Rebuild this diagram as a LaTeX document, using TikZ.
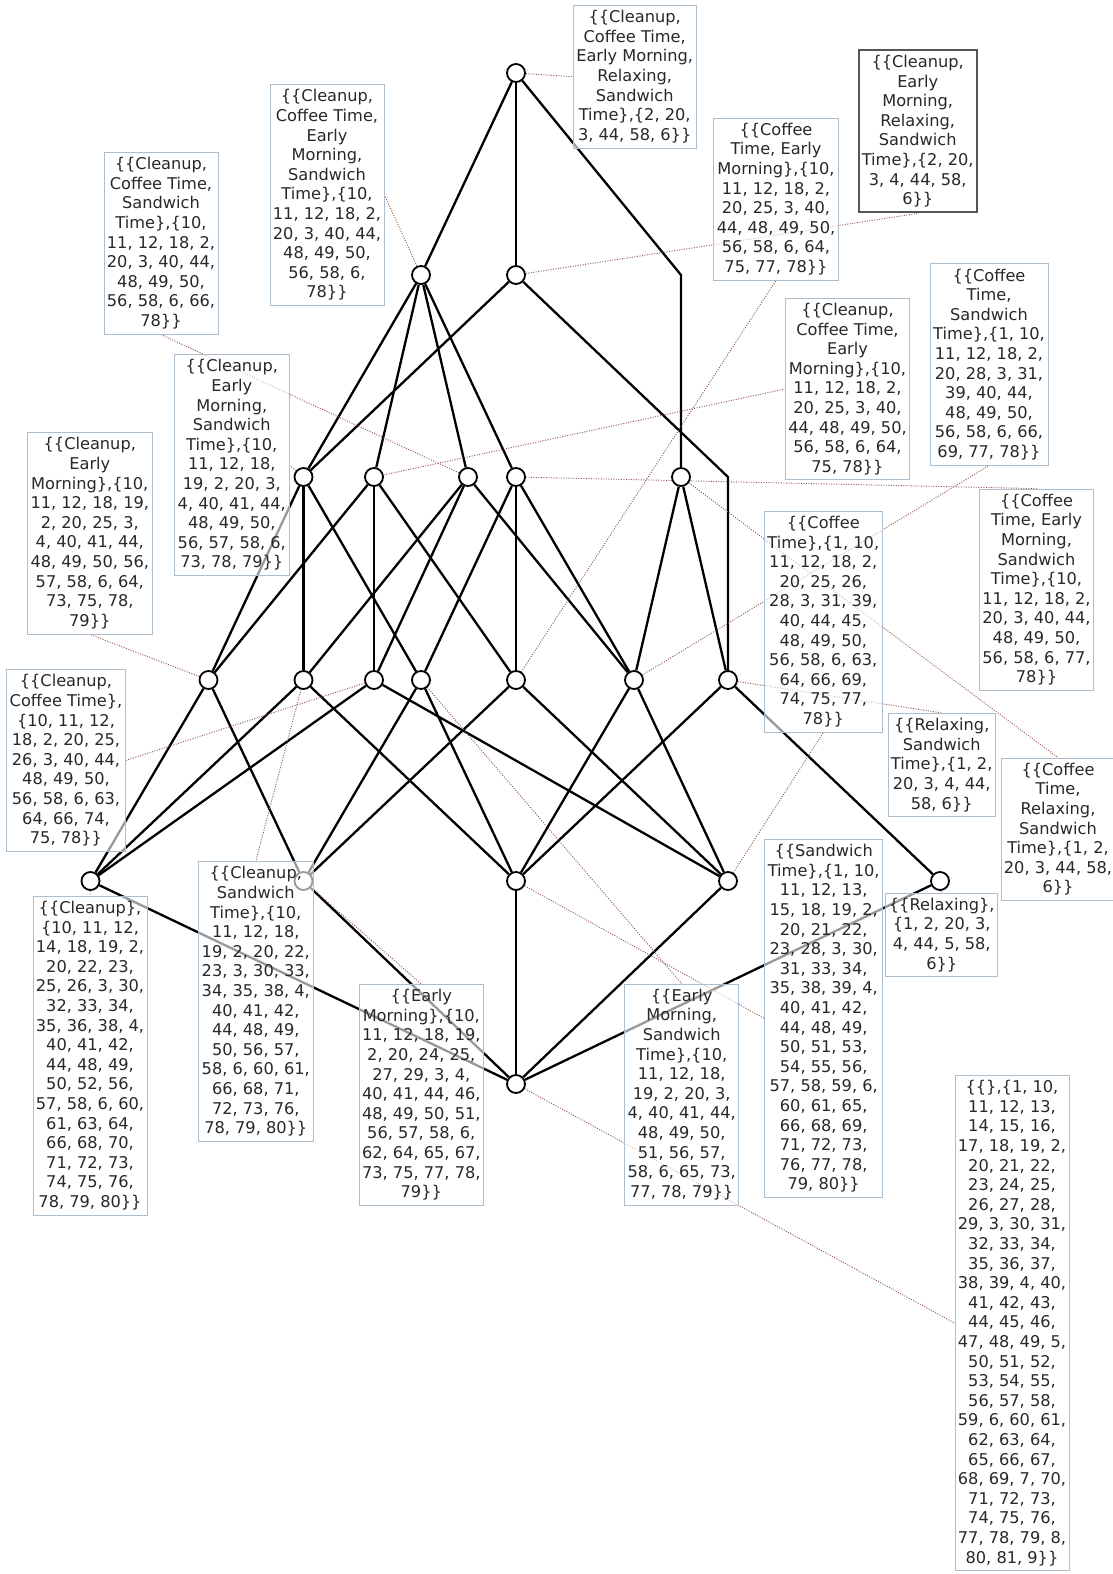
\documentclass[tikz,border=0pt]{standalone}
\usepackage{fontspec}
\newfontfamily\lblfont{DejaVu Sans}
\pgfdeclarelayer{bg}
\pgfsetlayers{bg,main}
\definecolor{boxline}{RGB}{172,190,206}
\definecolor{leadline}{RGB}{145,85,85}
\definecolor{lbltext}{RGB}{40,40,40}
\definecolor{markline}{RGB}{85,85,85}
\begin{document}
\begin{tikzpicture}[
x=1pt, y=-1pt, concept/.style={circle, draw, line width=1.8pt, fill=white, minimum size=18pt, inner sep=0pt}, edge/.style={line width=2.3pt, black}, lead/.style={leadline, line width=0.9pt, dash pattern=on 1pt off 1.5pt}, lbl/.style={rectangle, draw=boxline, line width=0.8pt, fill=white, fill opacity=0.6, text opacity=1, text=lbltext, align=center, inner xsep=3pt, inner ysep=5pt, font=\lblfont\fontsize{16.2}{19.6}\selectfont}, lblmark/.style={lbl, draw=markline, line width=2pt} ]
\useasboundingbox (0,0) rectangle (1113,1574);
\begin{pgfonlayer}{bg}
\fill[white] (0,0) rectangle (1113,1574);
\end{pgfonlayer}
\node[concept] (t) at (516,73) {};
\node[concept] (a) at (421,275) {};
\node[concept] (b) at (516,275) {};
\node[concept] (c1) at (303.5,477) {};
\node[concept] (c2) at (374,477) {};
\node[concept] (c3) at (468,477) {};
\node[concept] (c4) at (516,477) {};
\node[concept] (c5) at (681,477) {};
\node[concept] (d1) at (208.5,680) {};
\node[concept] (d2) at (303.5,680) {};
\node[concept] (d3) at (374,680) {};
\node[concept] (d4) at (421,680) {};
\node[concept] (d5) at (516,680) {};
\node[concept] (d6) at (634,680) {};
\node[concept] (d7) at (728,680) {};
\node[concept] (e1) at (90.5,881) {};
\node[concept] (e2) at (303.5,881) {};
\node[concept] (e3) at (516,881) {};
\node[concept] (e4) at (728,881) {};
\node[concept] (e5) at (940,881) {};
\node[concept] (z) at (516,1084) {};
\coordinate (bendtc) at (681,275);
\coordinate (bendbd) at (728,477);
\node[lbl] (lblT) at (634.7,76.7) {\{\{Cleanup,\\Coffee Time,\\Early Morning,\\Relaxing,\\Sandwich\\Time\},\{2, 20,\\3, 44, 58, 6\}\}};
\node[lbl] (lblA) at (327,195) {\{\{Cleanup,\\Coffee Time,\\Early\\Morning,\\Sandwich\\Time\},\{10,\\11, 12, 18, 2,\\20, 3, 40, 44,\\48, 49, 50,\\56, 58, 6,\\78\}\}};
\node[lblmark] (lblB) at (917.7,131.3) {\{\{Cleanup,\\Early\\Morning,\\Relaxing,\\Sandwich\\Time\},\{2, 20,\\3, 4, 44, 58,\\6\}\}};
\node[lbl] (lblClCoS) at (161,243.3) {\{\{Cleanup,\\Coffee Time,\\Sandwich\\Time\},\{10,\\11, 12, 18, 2,\\20, 3, 40, 44,\\48, 49, 50,\\56, 58, 6, 66,\\78\}\}};
\node[lbl] (lblCoEM) at (776,199) {\{\{Coffee\\Time, Early\\Morning\},\{10,\\11, 12, 18, 2,\\20, 25, 3, 40,\\44, 48, 49, 50,\\56, 58, 6, 64,\\75, 77, 78\}\}};
\node[lbl] (lblClEMS) at (231.8,465) {\{\{Cleanup,\\Early\\Morning,\\Sandwich\\Time\},\{10,\\11, 12, 18,\\19, 2, 20, 3,\\4, 40, 41, 44,\\48, 49, 50,\\56, 57, 58, 6,\\73, 78, 79\}\}};
\node[lbl] (lblClCoEM) at (847.5,389) {\{\{Cleanup,\\Coffee Time,\\Early\\Morning\},\{10,\\11, 12, 18, 2,\\20, 25, 3, 40,\\44, 48, 49, 50,\\56, 58, 6, 64,\\75, 78\}\}};
\node[lbl] (lblCoS) at (989,364.5) {\{\{Coffee\\Time,\\Sandwich\\Time\},\{1, 10,\\11, 12, 18, 2,\\20, 28, 3, 31,\\39, 40, 44,\\48, 49, 50,\\56, 58, 6, 66,\\69, 77, 78\}\}};
\node[lbl] (lblClEM) at (89.8,533.3) {\{\{Cleanup,\\Early\\Morning\},\{10,\\11, 12, 18, 19,\\2, 20, 25, 3,\\4, 40, 41, 44,\\48, 49, 50, 56,\\57, 58, 6, 64,\\73, 75, 78,\\79\}\}};
\node[lbl] (lblCoEMS) at (1036.5,589.7) {\{\{Coffee\\Time, Early\\Morning,\\Sandwich\\Time\},\{10,\\11, 12, 18, 2,\\20, 3, 40, 44,\\48, 49, 50,\\56, 58, 6, 77,\\78\}\}};
\node[lbl] (lblCo) at (823.3,621.7) {\{\{Coffee\\Time\},\{1, 10,\\11, 12, 18, 2,\\20, 25, 26,\\28, 3, 31, 39,\\40, 44, 45,\\48, 49, 50,\\56, 58, 6, 63,\\64, 66, 69,\\74, 75, 77,\\78\}\}};
\node[lbl] (lblClCo) at (66,760.4) {\{\{Cleanup,\\Coffee Time\},\\\{10, 11, 12,\\18, 2, 20, 25,\\26, 3, 40, 44,\\48, 49, 50,\\56, 58, 6, 63,\\64, 66, 74,\\75, 78\}\}};
\node[lbl] (lblRS) at (941.7,765) {\{\{Relaxing,\\Sandwich\\Time\},\{1, 2,\\20, 3, 4, 44,\\58, 6\}\}};
\node[lbl] (lblCoRS) at (1058,829.3) {\{\{Coffee\\Time,\\Relaxing,\\Sandwich\\Time\},\{1, 2,\\20, 3, 44, 58,\\6\}\}};
\node[lbl] (lblCl) at (90,1055.7) {\{\{Cleanup\},\\\{10, 11, 12,\\14, 18, 19, 2,\\20, 22, 23,\\25, 26, 3, 30,\\32, 33, 34,\\35, 36, 38, 4,\\40, 41, 42,\\44, 48, 49,\\50, 52, 56,\\57, 58, 6, 60,\\61, 63, 64,\\66, 68, 70,\\71, 72, 73,\\74, 75, 76,\\78, 79, 80\}\}};
\node[lbl] (lblClS) at (255.8,1001.5) {\{\{Cleanup,\\Sandwich\\Time\},\{10,\\11, 12, 18,\\19, 2, 20, 22,\\23, 3, 30, 33,\\34, 35, 38, 4,\\40, 41, 42,\\44, 48, 49,\\50, 56, 57,\\58, 6, 60, 61,\\66, 68, 71,\\72, 73, 76,\\78, 79, 80\}\}};
\node[lbl] (lblEM) at (421.3,1094.8) {\{\{Early\\Morning\},\{10,\\11, 12, 18, 19,\\2, 20, 24, 25,\\27, 29, 3, 4,\\40, 41, 44, 46,\\48, 49, 50, 51,\\56, 57, 58, 6,\\62, 64, 65, 67,\\73, 75, 77, 78,\\79\}\}};
\node[lbl] (lblEMS) at (681.7,1094.5) {\{\{Early\\Morning,\\Sandwich\\Time\},\{10,\\11, 12, 18,\\19, 2, 20, 3,\\4, 40, 41, 44,\\48, 49, 50,\\51, 56, 57,\\58, 6, 65, 73,\\77, 78, 79\}\}};
\node[lbl] (lblS) at (823.7,1018.5) {\{\{Sandwich\\Time\},\{1, 10,\\11, 12, 13,\\15, 18, 19, 2,\\20, 21, 22,\\23, 28, 3, 30,\\31, 33, 34,\\35, 38, 39, 4,\\40, 41, 42,\\44, 48, 49,\\50, 51, 53,\\54, 55, 56,\\57, 58, 59, 6,\\60, 61, 65,\\66, 68, 69,\\71, 72, 73,\\76, 77, 78,\\79, 80\}\}};
\node[lbl] (lblR) at (941.7,934.9) {\{\{Relaxing\},\\\{1, 2, 20, 3,\\4, 44, 5, 58,\\6\}\}};
\node[lbl] (lblEmpty) at (1012,1323) {\{\{\},\{1, 10,\\11, 12, 13,\\14, 15, 16,\\17, 18, 19, 2,\\20, 21, 22,\\23, 24, 25,\\26, 27, 28,\\29, 3, 30, 31,\\32, 33, 34,\\35, 36, 37,\\38, 39, 4, 40,\\41, 42, 43,\\44, 45, 46,\\47, 48, 49, 5,\\50, 51, 52,\\53, 54, 55,\\56, 57, 58,\\59, 6, 60, 61,\\62, 63, 64,\\65, 66, 67,\\68, 69, 7, 70,\\71, 72, 73,\\74, 75, 76,\\77, 78, 79, 8,\\80, 81, 9\}\}};
\begin{pgfonlayer}{bg}
\draw[edge] (t) -- (a);
\draw[edge] (t) -- (b);
\draw[edge] (t) -- (bendtc) -- (c5);
\draw[edge] (a) -- (c1);
\draw[edge] (a) -- (c2);
\draw[edge] (a) -- (c3);
\draw[edge] (a) -- (c4);
\draw[edge] (b) -- (c1);
\draw[edge] (b) -- (bendbd) -- (d7);
\draw[edge] (c1) -- (d1);
\draw[edge] (c1) -- (d2);
\draw[edge] (c1) -- (d4);
\draw[edge] (c2) -- (d1);
\draw[edge] (c2) -- (d3);
\draw[edge] (c2) -- (d5);
\draw[edge] (c3) -- (d2);
\draw[edge] (c3) -- (d3);
\draw[edge] (c3) -- (d6);
\draw[edge] (c4) -- (d4);
\draw[edge] (c4) -- (d5);
\draw[edge] (c4) -- (d6);
\draw[edge] (c5) -- (d6);
\draw[edge] (c5) -- (d7);
\draw[edge] (d1) -- (e1);
\draw[edge] (d1) -- (e2);
\draw[edge] (d2) -- (e1);
\draw[edge] (d2) -- (e3);
\draw[edge] (d3) -- (e1);
\draw[edge] (d3) -- (e4);
\draw[edge] (d4) -- (e2);
\draw[edge] (d4) -- (e3);
\draw[edge] (d5) -- (e2);
\draw[edge] (d5) -- (e4);
\draw[edge] (d6) -- (e3);
\draw[edge] (d6) -- (e4);
\draw[edge] (d7) -- (e3);
\draw[edge] (d7) -- (e5);
\draw[edge] (e1) -- (z);
\draw[edge] (e2) -- (z);
\draw[edge] (e3) -- (z);
\draw[edge] (e4) -- (z);
\draw[edge] (e5) -- (z);
\draw[lead] (t) -- (lblT.west);
\draw[lead] (a) -- (lblA.east);
\draw[lead] (b) -- (lblB.south);
\draw[lead] (c1) -- (lblClEMS.east);
\draw[lead] (c2) -- (lblClCoEM.west);
\draw[lead] (c3) -- (lblClCoS.south);
\draw[lead] (c4) -- (lblCoEMS.north);
\draw[lead] (c5) -- (lblCoRS.north);
\draw[lead] (d1) -- (lblClEM.south);
\draw[lead] (d2) -- (lblClS.north);
\draw[lead] (d3) -- (lblClCo.east);
\draw[lead] (d4) -- (lblEMS.north);
\draw[lead] (d5) -- (lblCoEM.south);
\draw[lead] (d6) -- (lblCoS.south);
\draw[lead] (d7) -- (lblRS.north);
\draw[lead] (e1) -- (lblCl.north);
\draw[lead] (e2) -- (lblEM.north);
\draw[lead] (e3) -- (lblS.west);
\draw[lead] (e4) -- (lblCo.south);
\draw[lead] (e5) -- (lblR.north);
\draw[lead] (z) -- (lblEmpty.west);
\end{pgfonlayer}
\end{tikzpicture}
\end{document}
